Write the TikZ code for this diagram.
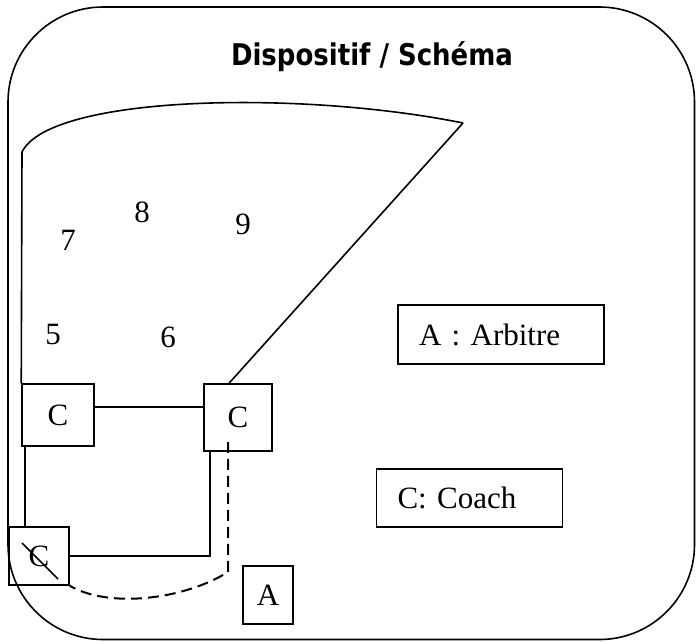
\documentclass[tikz,border=0pt]{standalone}
\usepackage{fontspec}
\setmainfont{Liberation Serif}
\newfontfamily\titlefont{DejaVu Sans}
\usepackage{tikz}
\usetikzlibrary{calc}
\tikzstyle{coachbox} = [draw,line width=1.5,inner sep=0pt,font=\fontsize{31}{36}\selectfont]
\tikzstyle{legendbox} = [draw,line width=1.5,align=left,inner xsep=21pt,font=\fontsize{31}{36}\selectfont]
\tikzstyle{player} = [inner sep=0pt,font=\fontsize{31}{36}\selectfont]
\tikzstyle{link} = [line width=1.6]
\tikzstyle{refpath} = [line width=2,dash pattern=on 11pt off 6pt]

\begin{document}
\begin{tikzpicture}[x=1pt,y=-1pt]   % Dispositif / Schema

        \useasboundingbox (0,0) rectangle (696,641);

        % Outer frame
        \draw[line width=1.6,rounded corners=95pt] (8,7) rectangle (694.5,639.5);

        % Title
        \node[anchor=base,font=\titlefont\bfseries\fontsize{26}{30}\selectfont] (title) at (372,65) {\scalebox{1}[1.15]{Dispositif / Schéma}};

        % Coaches and referee
        \node[coachbox,minimum width=72pt,minimum height=62pt] (C1) at (58,415) {C};
        \node[coachbox,minimum width=68pt,minimum height=67pt] (C2) at (238,417.5) {C};
        \node[coachbox,minimum width=60pt,minimum height=58pt] (C3) at (39,556) {C};
        \node[coachbox,minimum width=50pt,minimum height=58pt] (A) at (268,595) {A};

        % Players
        \node[player] (p7) at (68,240) {7};
        \node[player] (p8) at (142,212) {8};
        \node[player] (p9) at (243,224) {9};
        \node[player] (p5) at (53,334) {5};
        \node[player] (p6) at (168,337) {6};

        % Legend
        \node[legendbox,text width=164pt,minimum height=59pt] (legA) at (501,334.5) {A : Arbitre};
        \node[legendbox,text width=144pt,minimum height=58pt] (legC) at (469.5,498) {C: Coach};

        % Field outline
        \coordinate (fieldtop) at (22,152);
        \coordinate (fieldcorner) at (463,123);
        \draw[link] (C1.north west) -- (fieldtop) .. controls (50,95) and (300,90) .. (fieldcorner);
        \draw[link] (fieldcorner) -- ($(C2.north)+(-9,0)$);

        % Links between coaches
        \draw[link] ($(C1.east)+(0,-8)$) -- ($(C2.west)+(0,-10.5)$);          % C -> C
        \draw[link] ($(C1.south west)+(4,0)$) -- ($(C3.north west)+(17,0)$); % C -> C
        \draw[link] ($(C2.south west)+(7,0)$) |- (C3.east);                   % C -> C

        % Referee run
        \coordinate (Aturn) at (228,572);
        \draw[refpath] ($(C2.south)+(-10,-10)$) -- (Aturn) .. controls (185,599) and (110,609) .. (C3.south east);

        % Crossed coach
        \draw[line width=1.6] ($(C3)+(-17,-13)$) -- ($(C3)+(19,23)$);

    \end{tikzpicture}
\end{document}
